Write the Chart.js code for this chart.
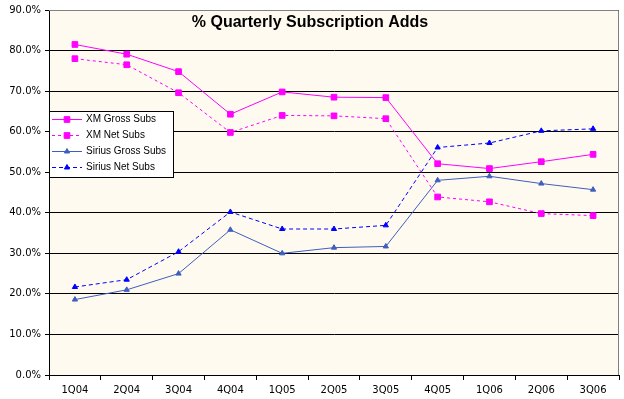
<!DOCTYPE html>
<html>
<head>
<meta charset="utf-8">
<script src="https://cdn.jsdelivr.net/npm/chart.js@4.4.1/dist/chart.umd.min.js"></script>
<style>
  html, body { margin: 0; padding: 0; background: #fff; }
  #wrap { width: 624px; height: 399px; }
</style>
</head>
<body>
<div id="wrap"><canvas id="chart" width="624" height="399"></canvas></div>
<script>
// quarters
const quarters = ['1Q04', '2Q04', '3Q04', '4Q04', '1Q05', '2Q05', '3Q05', '4Q05', '1Q06', '2Q06', '3Q06'];

// share of subscription adds (%)
const xmGross = [81.5, 79.1, 74.8, 64.3, 69.8, 68.5, 68.4, 52.1, 50.9, 52.6, 54.4];
const xmNet = [78.0, 76.5, 69.6, 59.8, 64.0, 63.9, 63.2, 43.9, 42.7, 39.8, 39.3];
const siriusGross = [18.6, 21.0, 25.0, 35.8, 30.0, 31.4, 31.7, 48.0, 49.0, 47.2, 45.7];
const siriusNet = [21.7, 23.5, 30.4, 40.2, 36.0, 36.0, 36.9, 56.1, 57.2, 60.2, 60.7];

const titleText = '% Quarterly Subscription Adds';
const tickFont = { family: 'Tahoma, "DejaVu Sans", sans-serif', size: 10 };

// fond crème + bordure grise de la zone de tracé
const plotBackground = {
    id: 'plotBackground',
    beforeDraw(chart) {
        const { ctx, chartArea: a } = chart;
        ctx.save();
        ctx.fillStyle = '#FFFAEF';
        ctx.fillRect(a.left, a.top, a.right - a.left, a.bottom - a.top);
        ctx.restore();
    },
    afterDraw(chart) {
        const { ctx, chartArea: a } = chart;
        ctx.save();
        ctx.strokeStyle = '#808080';
        ctx.lineWidth = 1;
        ctx.beginPath();
        ctx.moveTo(a.left, a.top + 0.5);
        ctx.lineTo(a.right - 0.5, a.top + 0.5);
        ctx.lineTo(a.right - 0.5, a.bottom);
        ctx.stroke();
        ctx.restore();
    }
};

// titre dans la zone de tracé
const innerTitle = {
    id: 'innerTitle',
    afterDraw(chart) {
        const { ctx } = chart;
        ctx.save();
        ctx.font = 'bold 16px Arial, "Liberation Sans", sans-serif';
        ctx.fillStyle = '#000';
        ctx.textAlign = 'center';
        ctx.textBaseline = 'middle';
        ctx.fillText(titleText, 310, 23);
        ctx.restore();
    }
};

// légende encadrée en haut à gauche
const boxLegend = {
    id: 'boxLegend',
    afterDraw(chart) {
        const { ctx } = chart;
        const x = 49, y = 111, w = 124, h = 66;
        ctx.save();
        ctx.fillStyle = '#fff';
        ctx.fillRect(x, y, w, h);
        ctx.strokeStyle = '#000';
        ctx.lineWidth = 1;
        ctx.strokeRect(x + 0.5, y + 0.5, w, h);
        ctx.font = '10px Arial, "Liberation Sans", sans-serif';
        ctx.textBaseline = 'middle';
        chart.data.datasets.forEach((ds, i) => {
            const cy = y + 8.5 + i * 16;
            ctx.strokeStyle = ds.borderColor;
            ctx.setLineDash(ds.borderDash || []);
            ctx.beginPath();
            ctx.moveTo(x + 3, cy);
            ctx.lineTo(x + 33, cy);
            ctx.stroke();
            ctx.setLineDash([]);
            ctx.fillStyle = ds.pointBackgroundColor;
            ctx.strokeStyle = ds.pointBorderColor;
            Chart.helpers.drawPoint(ctx, {
                pointStyle: ds.pointStyle,
                radius: ds.pointRadius,
                rotation: 0,
                borderWidth: 1
            }, x + 18, cy);
            ctx.fillStyle = '#000';
            ctx.fillText(ds.label, x + 37, cy);
        });
        ctx.restore();
    }
};

function series(label, data, color, dash, style, radius) {
    return {
        label: label,
        data: data,
        borderColor: color,
        borderWidth: 1,
        borderDash: dash,
        pointStyle: style,
        pointRadius: radius,
        pointHoverRadius: radius,
        pointBackgroundColor: color,
        pointBorderColor: color,
        pointBorderWidth: 1,
        tension: 0,
        fill: false
    };
}

new Chart(document.getElementById('chart').getContext('2d'), {
    type: 'line',
    data: {
        labels: quarters,
        datasets: [
            series('XM Gross Subs', xmGross, '#FF00FF', [], 'rect', 4),
            series('XM Net Subs', xmNet, '#FF00FF', [3, 3], 'rect', 4),
            series('Sirius Gross Subs', siriusGross, '#3F5FC0', [], 'triangle', 3),
            series('Sirius Net Subs', siriusNet, '#0000FF', [4, 3], 'triangle', 3)
        ]
    },
    options: {
        responsive: false,
        animation: false,
        devicePixelRatio: 1,
        layout: { padding: { top: 9, right: 1, left: 0, bottom: 0 } },
        plugins: {
            legend: { display: false },
            title: { display: false },
            tooltip: { enabled: false }
        },
        scales: {
            x: {
                offset: true,
                grid: {
                    offset: true,
                    drawOnChartArea: false,
                    drawTicks: true,
                    tickLength: 5,
                    color: '#000'
                },
                border: { color: '#000', width: 1 },
                ticks: { color: '#000', font: tickFont, padding: 4, maxRotation: 0 },
                afterFit(scale) { scale.height = 24; }
            },
            y: {
                min: 0,
                max: 90,
                grid: {
                    color: '#000',
                    lineWidth: 1,
                    drawTicks: true,
                    tickLength: 4
                },
                border: { color: '#000', width: 1 },
                ticks: {
                    stepSize: 10,
                    color: '#000',
                    font: tickFont,
                    padding: 4,
                    callback: v => v.toFixed(1) + '%'
                },
                afterFit(scale) { scale.width = 49; }
            }
        }
    },
    plugins: [plotBackground, innerTitle, boxLegend]
});
</script>
</body>
</html>
